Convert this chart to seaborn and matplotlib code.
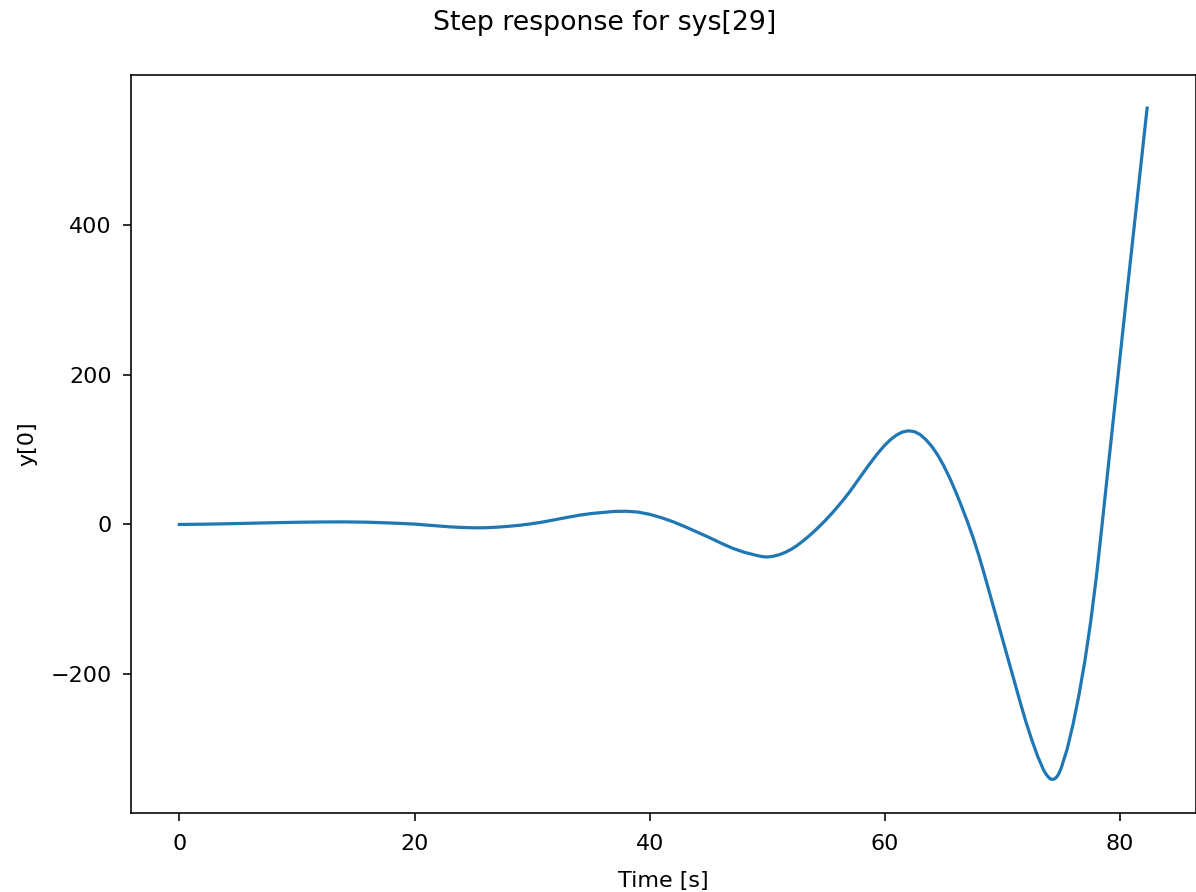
import matplotlib
matplotlib.use("Agg")
import matplotlib.pyplot as plt
import seaborn as sns
import pandas as pd

# Sampled step response of output y[0] (time in seconds)
time_s = [
    0, 2, 4, 6, 8, 10, 12, 14, 16, 18, 20,
    21, 22, 23, 24, 25, 26, 27, 28, 29, 30,
    31, 32, 33, 34, 35, 36, 37, 38, 39, 40,
    41, 42, 43, 44, 45, 46, 47, 48, 49, 49.5,
    50, 50.5, 51, 51.5, 52, 52.5, 53, 53.5, 54, 54.5,
    55, 55.5, 56, 56.5, 57, 57.5, 58, 58.5, 59, 59.5,
    60, 60.5, 61, 61.5, 62, 62.5, 63, 63.5, 64, 64.5,
    65, 65.5, 66, 66.5, 67, 67.5, 68, 68.5, 69, 69.5,
    70, 70.5, 71, 71.5, 72, 72.5, 73, 73.5, 73.75, 74,
    74.2, 74.4, 74.6, 74.8, 75, 75.5, 76, 76.5, 77, 77.5,
    78, 78.5, 79, 79.5, 80, 80.5, 81, 81.5, 82, 82.3,
]
y0 = [
    0.0, 0.3, 0.9, 1.6, 2.3, 2.9, 3.3, 3.4, 3.0, 1.9, 0.5,
    -0.8, -2.0, -3.2, -4.0, -4.5, -4.4, -3.7, -2.5, -1.0, 1.0,
    3.5, 6.5, 9.5, 12.3, 14.5, 16.0, 17.4, 17.6, 16.5, 13.5,
    9.0, 3.5, -3.0, -10.0, -17.0, -24.5, -31.5, -37.0, -41.0, -42.8,
    -43.5, -42.5, -40.5, -37.5, -33.5, -28.5, -22.5, -16.0, -9.0, -1.5,
    6.5, 15.0, 24.0, 33.5, 43.5, 54.5, 65.5, 76.5, 87.0, 97.0,
    106.0, 113.5, 119.5, 123.5, 125.0, 124.0, 120.0, 113.0, 104.0, 92.5,
    78.5, 62.5, 44.5, 25.0, 4.5, -17.5, -42.0, -69.0, -97.0, -125.0,
    -153.0, -181.0, -209.0, -237.0, -264.0, -288.0, -310.0, -328.0, -334.5, -339.0,
    -340.5, -340.0, -337.5, -332.5, -325.0, -300.0, -267.0, -228.0, -183.0, -130.0,
    -68.0, 4.0, 78.0, 151.0, 224.0, 297.0, 369.0, 441.0, 513.0, 556.0,
]

df = pd.DataFrame({"Time [s]": time_s, "y[0]": y0})

W, H, DPI = 1196, 892, 144
fig = plt.figure(figsize=(W / DPI, H / DPI), dpi=DPI)
ax = fig.add_axes([131 / W, 1 - 813 / H, (1195.5 - 131) / W, (813 - 74.5) / H])

sns.lineplot(data=df, x="Time [s]", y="y[0]", ax=ax, color="#1f77b4",
             linewidth=1.6, sort=False, estimator=None)

ax.set_xlabel("Time [s]", fontsize=11.1, labelpad=8.5)
ax.set_ylabel("y[0]", fontsize=11.1, labelpad=6.5)
ax.tick_params(labelsize=11.1, length=4.15, pad=5.5)
ax.tick_params(axis="x", pad=6.2)
ax.set_yticks([-200, 0, 200, 400])
ax.set_xticks([0, 20, 40, 60, 80])

fig.suptitle("Step response for sys[29]", x=605 / W, y=1 - 10 / H,
             va="top", fontsize=13.4)

fig.savefig("out.png", dpi=DPI)
